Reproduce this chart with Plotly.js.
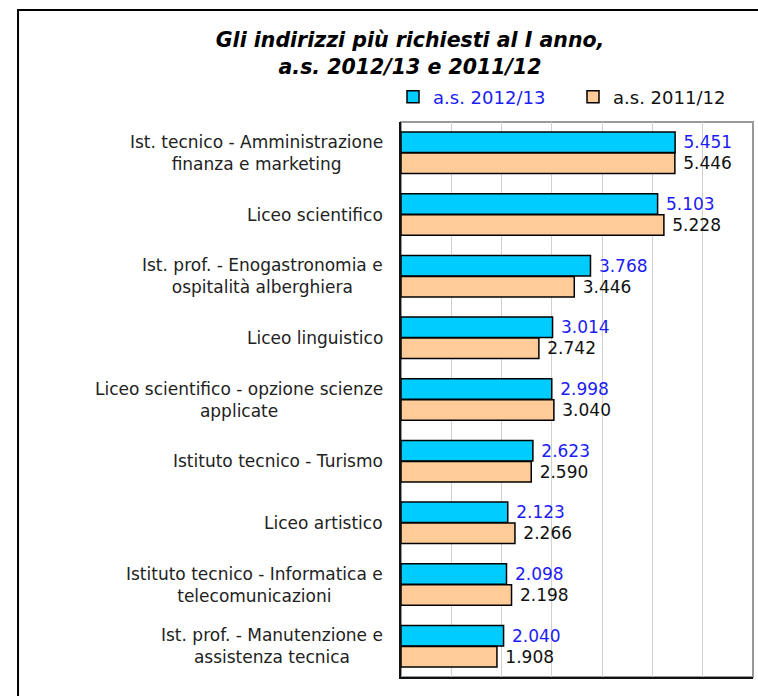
<!DOCTYPE html>
<html>
<head>
<meta charset="utf-8">
<script src="https://cdn.plot.ly/plotly-3.0.1.min.js"></script>
<style>body{margin:0;background:#fff}</style>
</head>
<body>
<div id="plot" style="width:758px;height:696px"></div>
<script>
// categories and values
let categories = [
  'Ist. tecnico - Amministrazione<br>finanza e marketing',
  'Liceo scientifico',
  'Ist. prof. - Enogastronomia e<br>ospitalità alberghiera',
  'Liceo linguistico',
  'Liceo scientifico - opzione scienze<br>applicate',
  'Istituto tecnico - Turismo',
  'Liceo artistico',
  'Istituto tecnico - Informatica e<br>telecomunicazioni',
  'Ist. prof. - Manutenzione e<br>assistenza tecnica'
]
let as2012 = [5451, 5103, 3768, 3014, 2998, 2623, 2123, 2098, 2040]
let as2011 = [5446, 5228, 3446, 2742, 3040, 2590, 2266, 2198, 1908]

// italian thousands separator
function fmt(v) {
  let s = String(v)
  return '\u00a0' + s.slice(0, s.length - 3) + '.' + s.slice(-3)
}

let blue = '#1c1cf5'
let font = 'DejaVu Sans, Verdana, sans-serif'

var trace1 = {
  y: categories,
  x: as2012,
  orientation: 'h',
  type: 'bar',
  name: '<span style="color:' + blue + '">a.s. 2012/13</span>',
  text: as2012.map(fmt),
  textposition: 'outside',
  constraintext: 'none',
  cliponaxis: false,
  textfont: {family: font, size: 17, color: blue},
  marker: {color: '#00CCFF', line: {color: '#000', width: 1.5}},
  legend: 'legend',
  hoverinfo: 'x'
}

var trace2 = {
  y: categories,
  x: as2011,
  orientation: 'h',
  type: 'bar',
  name: 'a.s. 2011/12',
  text: as2011.map(fmt),
  textposition: 'outside',
  constraintext: 'none',
  cliponaxis: false,
  textfont: {family: font, size: 17, color: '#111'},
  marker: {color: '#FFCC99', line: {color: '#000', width: 1.5}},
  legend: 'legend2',
  hoverinfo: 'x'
}

// category labels, centred lines like the original
let labels = categories.map(c => ({
  xref: 'paper', x: 0, xanchor: 'right', xshift: -16,
  yref: 'y', y: c, yanchor: 'middle',
  text: c, showarrow: false, align: 'center',
  font: {family: font, size: 17, color: '#222'}
}))

function legendAt(px) {
  return {
    orientation: 'h', xref: 'container', x: px / 758, xanchor: 'left',
    yref: 'container', y: 1 - 97 / 696, yanchor: 'middle',
    font: {family: font, size: 18, color: '#111'},
    bgcolor: 'rgba(0,0,0,0)'
  }
}

var layout = {
  width: 758,
  height: 696,
  margin: {l: 401, r: 5, t: 122, b: 19, autoexpand: false},
  paper_bgcolor: '#fff',
  plot_bgcolor: '#fff',
  font: {family: font, color: '#111'},
  title: {
    text: '<b><i>Gli indirizzi più richiesti al I anno,<br>a.s. 2012/13 e 2011/12</i></b>',
    font: {family: font, size: 20.5, color: '#000'},
    x: 0.541, xanchor: 'center', y: 0.932, yanchor: 'top'
  },
  barmode: 'group',
  bargap: 0.32,
  bargroupgap: 0.02,
  showlegend: true,
  legend: legendAt(393),
  legend2: legendAt(573),
  xaxis: {
    range: [0, 7000], dtick: 1000, showticklabels: false, ticks: '',
    showgrid: true, gridcolor: '#d0d0d0', gridwidth: 1, zeroline: false,
    showline: true, linecolor: '#111', linewidth: 2
  },
  yaxis: {
    autorange: 'reversed', showticklabels: false, ticks: '',
    showgrid: false, zeroline: false,
    showline: true, linecolor: '#111', linewidth: 2
  },
  annotations: labels,
  shapes: [
    {type: 'rect', xref: 'paper', yref: 'paper', x0: 0, x1: 1, y0: 0, y1: 1,
     line: {color: '#999', width: 2}, layer: 'below'},
    {type: 'rect', xref: 'paper', yref: 'paper', x0: -1.088, x1: 1.2, y0: -0.12, y1: 1.2018,
     line: {color: '#000', width: 2}, layer: 'below'}
  ]
}

Plotly.newPlot('plot', [trace1, trace2], layout, {displayModeBar: false})
</script>
</body>
</html>
